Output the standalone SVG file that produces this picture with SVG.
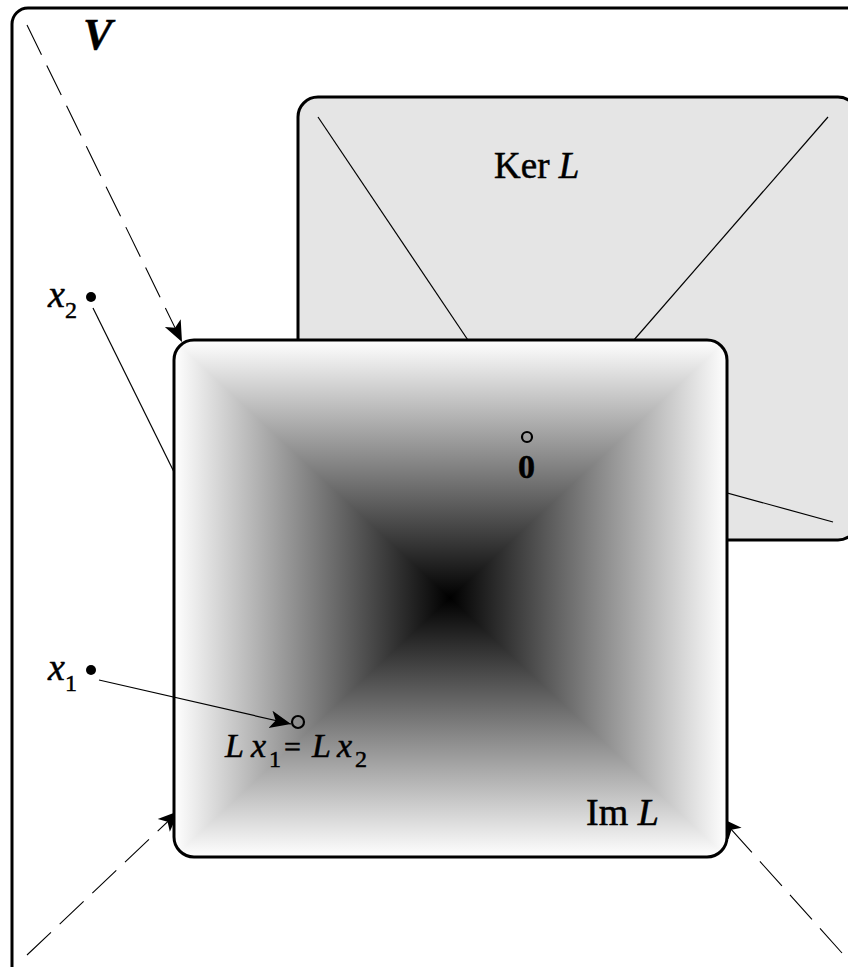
<svg xmlns="http://www.w3.org/2000/svg" width="848" height="967" viewBox="0 0 848 967">
<style>
.frame{fill:none;stroke:#000;stroke-width:3}
.thin{stroke:#000;stroke-width:1.2;fill:none}
.dash{stroke:#000;stroke-width:1.1;fill:none;stroke-dasharray:33 12}
.t{font-family:"Liberation Serif","Times New Roman",serif;fill:#000;stroke:#000;stroke-width:0.5}
.i{font-style:italic}
.tri{shape-rendering:crispEdges}
</style>
<defs>
<marker id="ah" viewBox="0 0 10 10" refX="10" refY="5" markerWidth="21" markerHeight="21" markerUnits="userSpaceOnUse" orient="auto">
<path d="M0,0.8 L10,5 L0,9.2 L2.5,5 z" fill="#000"/>
</marker>
<clipPath id="imclip"><rect x="174" y="340" width="553" height="517" rx="20"/></clipPath>
<linearGradient id="gT" gradientUnits="userSpaceOnUse" x1="0" y1="340" x2="0" y2="598">
<stop offset="0" stop-color="#fff"/><stop offset="1" stop-color="#000"/></linearGradient>
<linearGradient id="gB" gradientUnits="userSpaceOnUse" x1="0" y1="857" x2="0" y2="598">
<stop offset="0" stop-color="#fff"/><stop offset="1" stop-color="#000"/></linearGradient>
<linearGradient id="gL" gradientUnits="userSpaceOnUse" x1="174" y1="0" x2="450" y2="0">
<stop offset="0" stop-color="#fff"/><stop offset="1" stop-color="#000"/></linearGradient>
<linearGradient id="gR" gradientUnits="userSpaceOnUse" x1="727" y1="0" x2="450" y2="0">
<stop offset="0" stop-color="#fff"/><stop offset="1" stop-color="#000"/></linearGradient>
</defs>

<g id="V">
<rect class="frame" x="12" y="8" width="900" height="1000" rx="16"/>
<text class="t i" x="83" y="49" font-size="44" font-weight="bold">V</text>
</g>

<g id="KerL">
<rect x="298" y="97" width="560" height="443" rx="20" fill="#e5e5e5" stroke="#000" stroke-width="3"/>
<line class="thin" x1="318" y1="117" x2="480" y2="358"/>
<line class="thin" x1="828" y1="117" x2="620" y2="356"/>
<line class="thin" x1="833" y1="522" x2="600" y2="458"/>
<text class="t" x="494" y="178" font-size="37">Ker <tspan class="i">L</tspan></text>
</g>

<g id="connectors">
<line class="dash" x1="27" y1="25" x2="182" y2="342" marker-end="url(#ah)"/>
<line class="dash" x1="27" y1="955" x2="179" y2="811" marker-end="url(#ah)"/>
<line class="dash" x1="842" y1="953" x2="721" y2="818" marker-end="url(#ah)"/>
<line class="thin" x1="93" y1="308" x2="174" y2="472"/>
</g>

<g id="ImL">
<g clip-path="url(#imclip)">
<polygon class="tri" points="174,340 727,340 450,598" fill="url(#gT)"/>
<polygon class="tri" points="174,857 727,857 450,598" fill="url(#gB)"/>
<polygon class="tri" points="174,340 174,857 450,598" fill="url(#gL)"/>
<polygon class="tri" points="727,340 727,857 450,598" fill="url(#gR)"/>
</g>
<rect class="frame" x="174" y="340" width="553" height="517" rx="20"/>
<text class="t" x="586" y="825" font-size="38">Im <tspan class="i">L</tspan></text>
</g>

<g id="zero">
<circle cx="527" cy="437" r="5" fill="none" stroke="#000" stroke-width="2.2"/>
<text class="t" x="518" y="478" font-size="34" font-weight="bold">0</text>
</g>

<g id="x2">
<circle cx="91" cy="297" r="5" fill="#000"/>
<text class="t i" x="48" y="307" font-size="38">x</text>
<text class="t" x="65" y="318" font-size="24">2</text>
</g>

<g id="x1">
<circle cx="91" cy="670" r="5" fill="#000"/>
<text class="t i" x="48" y="680" font-size="38">x</text>
<text class="t" x="65" y="691" font-size="24">1</text>
</g>

<g id="connector-x1">
<line class="thin" x1="99" y1="680" x2="291" y2="724" marker-end="url(#ah)"/>
</g>

<g id="Lx">
<circle cx="298" cy="722" r="6" fill="none" stroke="#000" stroke-width="2.2"/>
<text class="t i" x="225" y="757" font-size="34">L</text>
<text class="t i" x="251" y="757" font-size="34">x</text>
<text class="t" x="269" y="767" font-size="24">1</text>
<text class="t" x="284" y="757" font-size="30">=</text>
<text class="t i" x="312" y="757" font-size="34">L</text>
<text class="t i" x="337" y="757" font-size="34">x</text>
<text class="t" x="355" y="767" font-size="24">2</text>
</g>
</svg>
